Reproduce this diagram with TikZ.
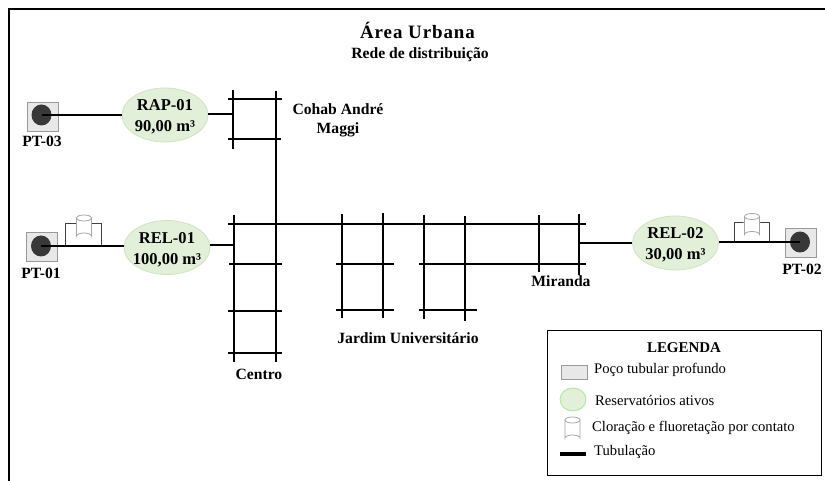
\documentclass[tikz,border=0pt]{standalone}
\usepackage{fontspec}
\setmainfont{Liberation Serif}
\definecolor{resfill}{HTML}{E2EFD9}
\definecolor{resline}{HTML}{CFE3C0}
\usetikzlibrary{shapes.geometric}
\newcommand{\toppad}{\rule{0pt}{15bp}}
\tikzset{
  x=1bp,y=-1bp,
  frameline/.style={black,line width=2bp},
  pipe/.style={black,line width=2bp},
  grid/.style={black,line width=2bp},
  thin pipe/.style={black!75,line width=1bp},
  well/.style={draw=black!40,fill=black!9,line width=.8bp,minimum width=31bp,minimum height=29bp,inner sep=0pt,rectangle},
  bore/.style={ellipse,fill=black!78,minimum width=20bp,minimum height=21bp,inner sep=0pt},
  reservoir/.style={ellipse,draw=resline,fill=resfill,line width=.8bp,minimum width=86bp,minimum height=54bp,inner sep=-10bp,align=center,font=\fontsize{16.6}{21}\selectfont\bfseries},
  lbl/.style={inner sep=0pt,font=\fontsize{15.7}{19}\selectfont\bfseries,align=center},
  legtxt/.style={inner sep=0pt,anchor=west,font=\fontsize{14.7}{15}\selectfont},
  tankpic/.pic={
    \draw[draw=black!35,fill=white,line width=.8bp] (-7.5,-9) -- (-7.5,9) arc[start angle=180,end angle=360,x radius=7.5,y radius=3] -- (7.5,-9);
    \draw[draw=black!35,fill=white,line width=.8bp] (0,-9) ellipse [x radius=7.5,y radius=3];
  },
}
\begin{document}
\begin{tikzpicture}
\useasboundingbox (0,0) rectangle (825,481);
% frame
\coordinate (f1) at (9,481); \coordinate (f2) at (9,9); \coordinate (f3) at (825,9);
\draw[frameline] (f1) -- (f2) -- (f3);
% titles
\node[inner sep=0pt,font=\fontsize{19}{22}\selectfont\bfseries\addfontfeature{LetterSpace=5}] (t1) at (417.5,30.5) {Área Urbana};
\node[lbl] (t2) at (420,55) {Rede de distribuição};
% grid: Cohab
\coordinate (c1) at (233,90); \coordinate (c2) at (233,149);
\coordinate (c3) at (276,91); \coordinate (c4) at (276,362);
\draw[grid] (c1) -- (c2); \draw[grid] (c3) -- (c4);
\draw[grid] (228,99) -- (282,99); \draw[grid] (228,139) -- (281,139);
% grid: main
\coordinate (m1) at (228,224); \coordinate (m2) at (586,224);
\draw[grid] (m1) -- (m2);
\coordinate (ce) at (234,215); \coordinate (cf) at (234,362);
\draw[grid] (ce) -- (cf);
\draw[grid] (229,264) -- (282,264);
\draw[grid] (228,311) -- (282,311);
\draw[grid] (228,353) -- (282,353);
% Jardim
\draw[grid] (342,214) -- (342,318);
\draw[grid] (383,213) -- (383,318);
\draw[grid] (424,215) -- (424,319);
\draw[grid] (465,216) -- (465,321);
\draw[grid] (336,264) -- (394,264);
\draw[grid] (419,264) -- (586,264);
\draw[grid] (336,310) -- (394,310);
\draw[grid] (419,310) -- (477,310);
% Miranda
\coordinate (mi1) at (539,215); \coordinate (mi2) at (539,272);
\coordinate (mi3) at (579,214); \coordinate (mi4) at (579,275);
\draw[grid] (mi1) -- (mi2); \draw[grid] (mi3) -- (mi4);
% wells
\node[well] (w3) at (42.5,116.5) {};
\node[bore] (b3) at (41.5,115) {};
\node[well] (w1) at (41.5,247) {};
\node[bore] (b1) at (41,246) {};
\node[well] (w2) at (800.5,242.5) {};
\node[bore] (b2) at (800,242) {};
% reservoirs
\node[reservoir] (rap) at (165,115) {\toppad RAP-01\\90,00 m³};
\node[reservoir] (rel1) at (167,247.5) {\toppad REL-01\\100,00 m³};
\node[reservoir] (rel2) at (675.5,243) {\toppad REL-02\\30,00 m³};
% chlorination
\coordinate (k1a) at (65.5,246); \coordinate (k1b) at (101,246); \coordinate (k1t) at (83,223.5);
\draw[thin pipe] (k1a) |- (k1t) -| (k1b);
\pic at (84,227) {tankpic};
\coordinate (k2a) at (734,243); \coordinate (k2b) at (769,243); \coordinate (k2t) at (751,223);
\draw[thin pipe] (k2a) |- (k2t) -| (k2b);
\pic at (752,225.5) {tankpic};
% connectors
\coordinate (g3) at (233,114); \coordinate (g1) at (234,245); \coordinate (g2) at (579,243);
\draw[pipe] (b3.center) -- (b3.center -| rap.west);
\draw[pipe] (g3 -| rap.east) -- (g3);
\draw[pipe] (b1.center) -- (b1.center -| rel1.west);
\draw[pipe] (g1 -| rel1.east) -- (g1);
\draw[pipe] (g2) -- (g2 -| rel2.west);
\draw[pipe] (b2.center -| rel2.east) -- (b2.center);
% labels
\node[lbl] (l3) at (42,141.5) {PT-03};
\node[lbl] (l1) at (41,273) {PT-01};
\node[lbl] (l2) at (802,269) {PT-02};
\node[lbl] (lc) at (338,120.5) {Cohab André\\Maggi};
\node[lbl] (lce) at (259,374) {Centro};
\node[lbl] (lj) at (408,338) {Jardim Universitário};
\node[lbl] (lm) at (561,281) {Miranda};
% legend
\node[draw=black,line width=1bp,fill=white,minimum width=273.5bp,minimum height=144.5bp,inner sep=0pt] (leg) at (684.25,402.75) {};
\node[lbl,font=\fontsize{15}{18}\selectfont\bfseries] (lt) at (684,348) {LEGENDA};
\node[well,minimum width=26bp,minimum height=14bp] (s1) at (574,372) {};
\node[legtxt] (x1) at (594,370) {Poço tubular profundo};
\node[reservoir,minimum width=26bp,minimum height=23bp,draw=resline!80!green] (s2) at (573,399.5) {};
\node[legtxt] (x2) at (595,400) {Reservatórios ativos};
\pic at (572.5,429) {tankpic};
\node[legtxt] (x3) at (592,428) {Cloração e fluoretação por contato};
\coordinate (s4a) at (560,454); \coordinate (s4b) at (586,454);
\draw[black,line width=4bp] (s4a) -- (s4b);
\node[legtxt] (x4) at (594,452) {Tubulação};
\end{tikzpicture}
\end{document}
